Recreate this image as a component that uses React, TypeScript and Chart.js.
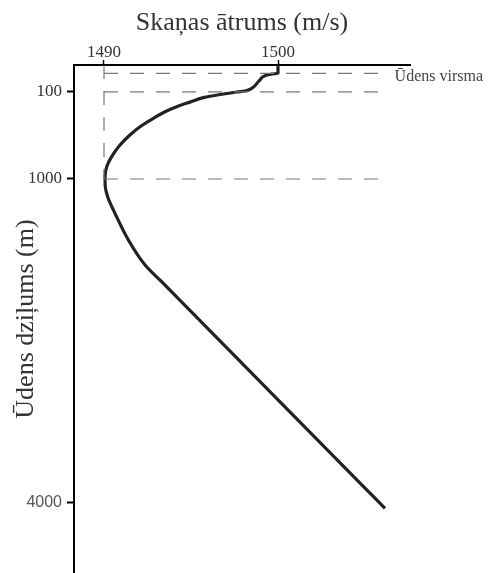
import React, { useEffect, useRef } from "react";
import { Chart, LinearScale, registerables } from "chart.js";

// ---- data ----
const speeds = [1500, 1500, 1499.66, 1499.28, 1498.91, 1498.51, 1498.1, 1497.63, 1496.67, 1495.71, 1494.94, 1494.18, 1493.51, 1492.84, 1492.07, 1491.49, 1490.92, 1490.44, 1490.16, 1490.06, 1490.07, 1490.21, 1490.63, 1491.4, 1492.36, 1493.31, 1505.0, 1506.15];
const depths = [-45, 0, 4, 12, 41, 79, 95, 100, 126, 159, 205, 252, 304, 372, 459, 545, 648, 769, 872, 976, 1065, 1164, 1318, 1565, 1797, 1952, 3864, 4052];

const speedTicks = [1490, 1500];
const depthTicks = [100, 1000, 4000];
const refDepths = [0, 100, 1000];
const refSpeed = 1490;
const refEndSpeed = 1506.3;
const surfaceLabel = "Ūdens virsma";
const xTitle = "Skaņas ātrums (m/s)";
const yTitle = "Ūdens dziļums (m)";

// piecewise (schematic) depth axis
const DEPTH_KNOTS = [-45, 0, 100, 1000, 4000, 4650];
const DEPTH_FRACTIONS = [0, 0.0163, 0.0531, 0.2244, 0.8616, 1];

function interp(v: number, xs: number[], ys: number[]) {
  if (v <= xs[0]) return ys[0] + ((v - xs[0]) * (ys[1] - ys[0])) / (xs[1] - xs[0]);
  for (let i = 1; i < xs.length; i++) {
    if (v <= xs[i]) return ys[i - 1] + ((v - xs[i - 1]) * (ys[i] - ys[i - 1])) / (xs[i] - xs[i - 1]);
  }
  const n = xs.length - 1;
  return ys[n] + ((v - xs[n]) * (ys[n] - ys[n - 1])) / (xs[n] - xs[n - 1]);
}

class DepthScale extends LinearScale {
  static id = "depth";
  static defaults = {};
  getPixelForValue(value: number) {
    return this.getPixelForDecimal(interp(value, DEPTH_KNOTS, DEPTH_FRACTIONS));
  }
  getValueForPixel(pixel: number) {
    return interp(this.getDecimalForPixel(pixel), DEPTH_FRACTIONS, DEPTH_KNOTS);
  }
}

Chart.register(...registerables, DepthScale as any);

const SERIF = "'Liberation Serif', 'Times New Roman', serif";
const SANS = "'Liberation Sans', Arial, sans-serif";

const labelPlugin = {
  id: "surfaceLabel",
  afterDatasetsDraw(chart: any) {
    const { ctx, scales } = chart;
    const x = scales.x.getPixelForValue(refEndSpeed) + 7;
    const y = scales.y.getPixelForValue(0) + 7.5;
    ctx.save();
    ctx.font = `16px ${SERIF}`;
    ctx.fillStyle = "#444";
    ctx.textAlign = "left";
    ctx.textBaseline = "alphabetic";
    ctx.fillText(surfaceLabel, x, y);
    ctx.restore();
  },
};

export default function App() {
  const ref = useRef<HTMLCanvasElement>(null);
  useEffect(() => {
    const curve = speeds.map((s, i) => ({ x: s, y: depths[i] }));
    const dashStyle = { borderColor: "#777", borderWidth: 1.2, borderDash: [14, 12], pointRadius: 0, fill: false };
    const refSets = refDepths.map((d) => ({
      data: [{ x: refSpeed, y: d }, { x: refEndSpeed, y: d }],
      ...dashStyle,
    }));
    const chart = new Chart(ref.current!, {
      type: "line",
      data: {
        datasets: [
          ...refSets,
          { data: [{ x: refSpeed, y: DEPTH_KNOTS[0] }, { x: refSpeed, y: 1000 }], ...dashStyle },
          {
            data: curve,
            borderColor: "#222",
            borderWidth: 3.2,
            pointRadius: 0,
            fill: false,
            cubicInterpolationMode: "monotone",
            indexAxis: "y",
          } as any,
        ],
      },
      options: {
        responsive: false,
        animation: false,
        devicePixelRatio: 1,
        indexAxis: "y",
        layout: { padding: { left: 0, right: 78, top: 0, bottom: 0 }, autoPadding: false },
        plugins: { legend: { display: false }, tooltip: { enabled: false } },
        scales: {
          x: {
            type: "linear",
            position: "top",
            min: 1488.276,
            max: 1507.586,
            afterBuildTicks: (s: any) => {
              s.ticks = speedTicks.map((v) => ({ value: v }));
            },
            afterFit: (s: any) => {
              s.height = 65;
              s.paddingLeft = 0;
              s.paddingRight = 0;
            },
            grid: { drawOnChartArea: false, drawTicks: true, tickLength: 5, tickWidth: 1.5, tickColor: "#000" },
            border: { display: true, color: "#000", width: 2 },
            ticks: {
              font: { family: SERIF, size: 17, lineHeight: 1.2 },
              color: "#333",
              padding: -3,
              maxRotation: 0,
              callback: (v: any) => String(v),
            },
            title: {
              display: true,
              text: xTitle,
              font: { family: SERIF, size: 26, lineHeight: 1.2 },
              color: "#333",
              padding: { top: 8, bottom: 0 },
            },
          },
          y: {
            type: "depth" as any,
            position: "left",
            reverse: true,
            min: DEPTH_KNOTS[0],
            max: DEPTH_KNOTS[DEPTH_KNOTS.length - 1],
            afterBuildTicks: (s: any) => {
              s.ticks = depthTicks.map((v) => ({ value: v }));
            },
            afterFit: (s: any) => {
              s.width = 74;
              s.paddingTop = 0;
              s.paddingBottom = 0;
            },
            grid: { drawOnChartArea: false, drawTicks: true, tickLength: 7, tickWidth: 2, tickColor: "#000" },
            border: { display: true, color: "#000", width: 2 },
            ticks: {
              font: (c: any) =>
                c.tick && c.tick.value === 4000
                  ? { family: SANS, size: 16, lineHeight: 1.2 }
                  : { family: SERIF, size: 17, lineHeight: 1.2 },
              color: (c: any) => (c.tick && c.tick.value === 4000 ? "#555" : "#333"),
              padding: 5,
              callback: (v: any) => String(v),
            },
            title: {
              display: true,
              text: yTitle,
              font: { family: SERIF, size: 26, lineHeight: 1.2 },
              color: "#333",
              padding: { top: 11, bottom: 0 },
            },
          },
        },
      },
      plugins: [labelPlugin],
    } as any);
    return () => chart.destroy();
  }, []);
  return (
    <div style={{ position: "fixed", left: 0, top: 0, width: 488, height: 573, background: "#fff" }}>
      <canvas ref={ref} width={488} height={573} style={{ width: 488, height: 573, display: "block" }} />
    </div>
  );
}
